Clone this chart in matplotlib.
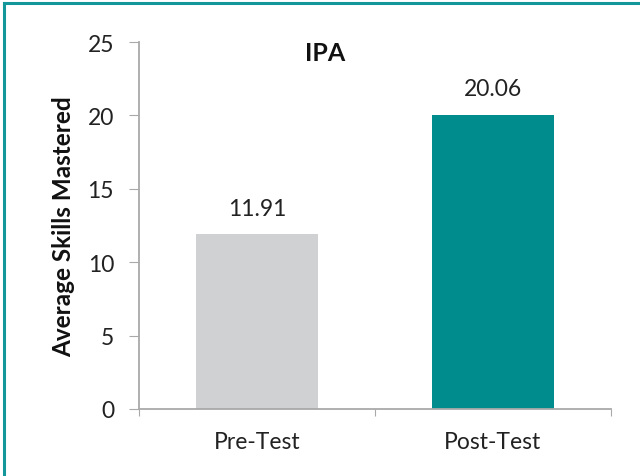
import matplotlib.pyplot as plt
from matplotlib.lines import Line2D

# chart data
categories = ["Pre-Test", "Post-Test"]
values = [11.91, 20.06]
bar_colors = ["#D0D1D3", "#008B8D"]
y_ticks = [0, 5, 10, 15, 20, 25]
title = "IPA"

plt.rcParams['font.family'] = ['Lato', 'DejaVu Sans']
text_color = "#222222"
axis_color = "#A9A9A9"

fig = plt.figure(figsize=(6.4, 4.77), dpi=100)
ax = fig.add_axes([139 / 640, 67 / 477, 472 / 640, 367 / 477])

positions = range(len(categories))
ax.bar(positions, values, width=0.52, color=bar_colors, zorder=2)

# value labels above the bars
for x, v in zip(positions, values):
    ax.annotate(f"{v:.2f}", (x, v), xytext=(0, 11), textcoords="offset points",
                ha="center", va="bottom", fontsize=16.5, color=text_color)

ax.set_xlim(-0.5, 1.5)
ax.set_ylim(0, 25)
ax.set_yticks(y_ticks)

# category boundaries get the ticks, categories get the labels
ax.set_xticks([-0.5, 0.5, 1.5])
ax.set_xticklabels([])
ax.set_xticks(list(positions), minor=True)
ax.set_xticklabels(categories, minor=True, fontsize=16.5, color=text_color)
ax.tick_params(axis="x", which="minor", length=0, pad=16)
ax.tick_params(axis="x", which="major", length=5, direction="out", color=axis_color)
ax.tick_params(axis="y", length=7, direction="out", color=axis_color,
               labelsize=16.5, labelcolor=text_color, pad=11)

for side in ["top", "right"]:
    ax.spines[side].set_visible(False)
for side in ["left", "bottom"]:
    ax.spines[side].set_color(axis_color)
    ax.spines[side].set_linewidth(1.3)

ax.set_ylabel("Average Skills Mastered", fontsize=17.5, fontweight="bold",
              color="#111111", labelpad=9)
ax.text(0.29, 24.3, title, ha="center", va="center", fontsize=18,
        fontweight="bold", color="#111111")

# teal frame along top and left edge
frame = "#14979A"
fig.add_artist(Line2D([4 / 640, 1], [1 - 4 / 477, 1 - 4 / 477], color=frame, lw=2.2,
                      transform=fig.transFigure))
fig.add_artist(Line2D([4 / 640, 4 / 640], [0, 1 - 4 / 477], color=frame, lw=2.2,
                      transform=fig.transFigure))

fig.savefig("out.png", dpi=100)
